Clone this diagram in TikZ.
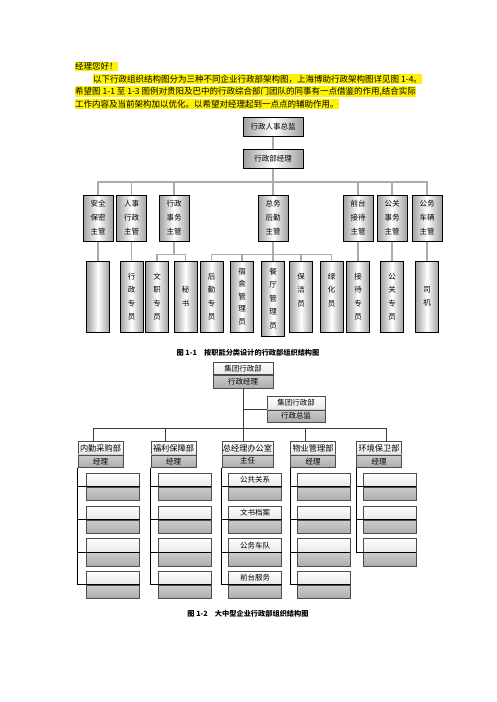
\documentclass[tikz,border=0pt]{standalone}
\usepackage{fontspec}
\setmainfont{Noto Sans CJK SC}
\usetikzlibrary{positioning,calc}

\begin{document}
\begin{tikzpicture}[x=1pt,y=-1pt,
  tube/.style={rectangle,draw,line width=1pt,left color=gray!75,right color=gray!75,middle color=white,inner sep=0pt,align=center},
  chief/.style={tube,minimum width=60pt,minimum height=19pt,font=\fontsize{7.5}{9}\selectfont},
  lead/.style={tube,minimum width=30pt,minimum height=46pt,font=\fontsize{7.5}{14}\selectfont},
  staff/.style={tube,minimum width=23pt,minimum height=71pt,font=\fontsize{7.5}{13.5}\selectfont},
  link/.style={gray!65,line width=1.3pt},
  hilite/.style={fill=yellow,anchor=west,inner xsep=0pt,inner ysep=0.8pt,font=\fontsize{8.5}{12.5}\selectfont},
  caption/.style={font=\fontsize{7.2}{9}\selectfont\bfseries},
  deptup/.style={rectangle,draw=gray!60!black,line width=0.6pt,top color=white,bottom color=gray!18,inner sep=0pt,minimum width=#1,minimum height=12.5pt,font=\fontsize{8.2}{9}\selectfont},
  deptup/.default=45pt,
  deptlo/.style={rectangle,draw=gray!60!black,line width=0.6pt,top color=gray!40,bottom color=gray!65,inner sep=0pt,minimum width=#1,minimum height=12.5pt,font=\fontsize{7.5}{9}\selectfont},
  deptlo/.default=45pt,
  cellup/.style={rectangle,draw=gray!60!black,line width=0.6pt,top color=white,bottom color=gray!18,inner sep=0pt,minimum width=53pt,minimum height=13.5pt,font=\fontsize{7.5}{9}\selectfont},
  celllo/.style={rectangle,draw=gray!60!black,line width=0.6pt,top color=gray!40,bottom color=gray!65,inner sep=0pt,minimum width=53pt,minimum height=13.5pt},
  trunk/.style={gray!45!black,line width=0.9pt},
  twig/.style={black,line width=0.7pt},
]
\useasboundingbox (0,0) rectangle (496,702);

% Greeting text
\node[hilite] (t1) at (75,66.5) {经理您好！};
\node[hilite] (t2) at (93,79) {以下行政组织结构图分为三种不同企业行政部架构图，上海博助行政架构图详见图 1-4。};
\node[hilite] (t3) at (75,91.5) {希望图 1-1 至 1-3 图例对贵阳及巴中的行政综合部门团队的同事有一点借鉴的作用,结合实际};
\node[hilite] (t4) at (75,104) {工作内容及当前架构加以优化。以希望对经理起到一点点的辅助作用。};

% Chart 1 - top
\node[chief] (dir) at (273,126.5) {行政人事总监};
\node[chief] (mgr) at (273,158.5) {行政部经理};
\draw[link] (dir) -- (mgr);

% Chart 1 - supervisors
\node[lead] (s1) at (98,218) {安全\\保密\\主管};
\node[lead] (s2) at (131.5,218) {人事\\行政\\主管};
\node[lead] (s3) at (174,218) {行政\\事务\\主管};
\node[lead] (s4) at (273,218) {总务\\后勤\\主管};
\node[lead] (s5) at (358,218) {前台\\接待\\主管};
\node[lead] (s6) at (392,218) {公关\\事务\\主管};
\node[lead] (s7) at (427,218) {公务\\车辆\\主管};

\draw[link] (mgr.south) -- ++(0,13.5) coordinate (b0);
\draw[link] (s1.north) |- (b0) -| (s7.north);
\draw[link] (s2.north) -- (s2.north |- b0);
\draw[link] (s3.north) -- (s3.north |- b0);
\draw[link] (b0) -- (s4.north);
\draw[link] (s5.north) -- (s5.north |- b0);
\draw[link] (s6.north) -- (s6.north |- b0);

% Chart 1 - staff
\node[staff] (e1) at (98,296.5) {};
\node[staff] (e2) at (131.5,296.5) {行\\政\\专\\员};
\node[staff] (e3) at (157,296.5) {文\\职\\专\\员};
\node[staff] (e4) at (185.5,296.5) {秘\\书};
\node[staff] (e5) at (211.5,296.5) {后\\勤\\专\\员};
\node[staff,font=\fontsize{7.5}{12.5}\selectfont] (e6) at (242,296.5) {宿\\舍\\管\\理\\员};
\node[staff,minimum height=75pt] (e7) at (273,298.5) {餐\\厅\\管\\理\\员};
\node[staff] (e8) at (301,296.5) {保\\洁\\员\\\mbox{}};
\node[staff] (e9) at (331.5,296.5) {绿\\化\\员\\\mbox{}};
\node[staff] (e10) at (358,296.5) {接\\待\\专\\员};
\node[staff] (e11) at (392,296.5) {公\\关\\专\\员};
\node[staff] (e12) at (427,296.5) {司\\机};

\draw[link] (s1) -- (e1);
\draw[link] (s2) -- (e2);
\draw[link] (s3.south) -- ++(0,13) coordinate (b3);
\draw[link] (e3.north) |- (b3) -| (e4.north);
\draw[link] (s4.south) -- ++(0,13) coordinate (b4);
\draw[link] (e5.north) |- (b4) -| (e9.north);
\draw[link] (e6.north) -- (e6.north |- b4);
\draw[link] (b4) -- (e7.north);
\draw[link] (e8.north) -- (e8.north |- b4);
\draw[link] (s5) -- (e10);
\draw[link] (s6) -- (e11);
\draw[link] (s7) -- (e12);

\node[caption] (cap1) at (248,353) {图 1-1\quad 按职能分类设计的行政部组织结构图};

% Chart 2 - head
\node[deptup=60pt,font=\fontsize{7.5}{9}\selectfont] (g1) at (243,368.5) {集团行政部};
\node[deptlo=60pt,below=0pt of g1] (g2) {行政经理};
\node[deptup=58pt,font=\fontsize{7.5}{9}\selectfont] (h1) at (296,403) {集团行政部};
\node[deptlo=58pt,below=0pt of h1] (h2) {行政总监};
\draw[trunk] (g2.south) -- ++(0,40) coordinate (c0);
\draw[trunk] (h1.south west) -- (h1.south west -| g2.south);

% Chart 2 - departments
\node[deptup] (d1) at (100.5,448) {内勤采购部};
\node[deptlo,below=0pt of d1] (d1b) {经理};
\node[deptup] (d2) at (173.5,448) {福利保障部};
\node[deptlo,below=0pt of d2] (d2b) {经理};
\node[deptup=51pt] (d3) at (247.5,448) {总经理办公室};
\node[deptlo=51pt,below=0pt of d3] (d3b) {主任};
\node[deptup] (d4) at (313,448) {物业管理部};
\node[deptlo,below=0pt of d4] (d4b) {经理};
\node[deptup] (d5) at (379,448) {环境保卫部};
\node[deptlo,below=0pt of d5] (d5b) {经理};

\draw[trunk] ([xshift=-7pt]d1.north) |- (c0) -| ([xshift=7pt]d5.north);
\draw[trunk] ([xshift=-8pt]d2.north) -- ([xshift=-8pt]d2.north |- c0);
\draw[trunk] (c0) -- (c0 |- d3.north);
\draw[trunk] ([xshift=-8pt]d4.north) -- ([xshift=-8pt]d4.north |- c0);

% Chart 2 - cells, column 1
\node[cellup] (a11) at (113,479.75) {};
\node[celllo,below=0pt of a11] (a11b) {};
\node[cellup] (a12) at (113,512.75) {};
\node[celllo,below=0pt of a12] (a12b) {};
\node[cellup] (a13) at (113,545.25) {};
\node[celllo,below=0pt of a13] (a13b) {};
\node[cellup] (a14) at (113,577.75) {};
\node[celllo,below=0pt of a14] (a14b) {};
\draw[twig] (d1b.south west) |- (a11.south east);
\draw[twig] (d1b.south west) |- (a12.south east);
\draw[twig] (d1b.south west) |- (a13.south east);
\draw[twig] (d1b.south west) |- (a14.south east);

% column 2
\node[cellup] (a21) at (184.5,479.75) {};
\node[celllo,below=0pt of a21] (a21b) {};
\node[cellup] (a22) at (184.5,512.75) {};
\node[celllo,below=0pt of a22] (a22b) {};
\node[cellup] (a23) at (184.5,545.25) {};
\node[celllo,below=0pt of a23] (a23b) {};
\node[cellup] (a24) at (184.5,577.75) {};
\node[celllo,below=0pt of a24] (a24b) {};
\draw[twig] (d2b.south west) |- (a21.south east);
\draw[twig] (d2b.south west) |- (a22.south east);
\draw[twig] (d2b.south west) |- (a23.south east);
\draw[twig] (d2b.south west) |- (a24.south east);

% column 3
\node[cellup] (a31) at (255,479.75) {公共关系};
\node[celllo,below=0pt of a31] (a31b) {};
\node[cellup] (a32) at (255,512.75) {文书档案};
\node[celllo,below=0pt of a32] (a32b) {};
\node[cellup] (a33) at (255,545.25) {公务车队};
\node[celllo,below=0pt of a33] (a33b) {};
\node[cellup] (a34) at (255,577.75) {前台服务};
\node[celllo,below=0pt of a34] (a34b) {};
\draw[twig] (d3b.south west) |- (a31.south east);
\draw[twig] (d3b.south west) |- (a32.south east);
\draw[twig] (d3b.south west) |- (a33.south east);
\draw[twig] (d3b.south west) |- (a34.south east);

% column 4
\node[cellup] (a41) at (323.5,479.75) {};
\node[celllo,below=0pt of a41] (a41b) {};
\node[cellup] (a42) at (323.5,512.75) {};
\node[celllo,below=0pt of a42] (a42b) {};
\node[cellup] (a43) at (323.5,545.25) {};
\node[celllo,below=0pt of a43] (a43b) {};
\node[cellup] (a44) at (323.5,577.75) {};
\node[celllo,below=0pt of a44] (a44b) {};
\draw[twig] (d4b.south west) |- (a41.south east);
\draw[twig] (d4b.south west) |- (a42.south east);
\draw[twig] (d4b.south west) |- (a43.south east);
\draw[twig] (d4b.south west) |- (a44.south east);

% column 5
\node[cellup] (a51) at (389.5,479.75) {};
\node[celllo,below=0pt of a51] (a51b) {};
\node[cellup] (a52) at (389.5,512.75) {};
\node[celllo,below=0pt of a52] (a52b) {};
\node[cellup] (a53) at (389.5,545.25) {};
\node[celllo,below=0pt of a53] (a53b) {};
\draw[twig] (d5b.south west) |- (a51.south east);
\draw[twig] (d5b.south west) |- (a52.south east);
\draw[twig] (d5b.south west) |- (a53.south east);

\node[caption] (cap2) at (248,614) {图 1-2\quad 大中型企业行政部组织结构图};
\end{tikzpicture}
\end{document}
